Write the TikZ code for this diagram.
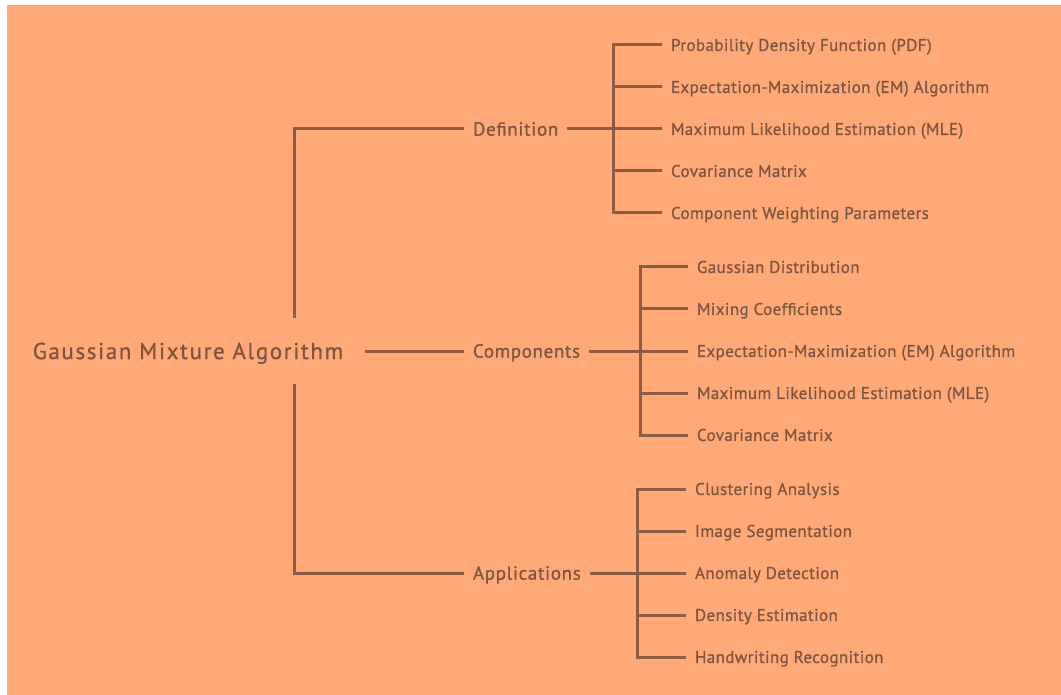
\documentclass[tikz,border=0pt]{standalone}
\usepackage{fontspec}
\setmainfont{PT Sans}
\newfontfamily\rootface{PT Sans}[FakeBold=0.8, LetterSpace=7]
\newfontfamily\branchface{PT Sans}[FakeBold=0.8, LetterSpace=3.5]
\newfontfamily\leafface{PT Sans}[FakeBold=0.8, LetterSpace=2.3]
\definecolor{canvas}{HTML}{FFA979}
\definecolor{bark}{HTML}{8A5D44}
\definecolor{ink}{HTML}{7D5440}
\tikzset{
  label base/.style={text=ink, inner ysep=0pt, outer sep=0pt},
  link/.style={draw=bark, line width=3pt},
  rootlabel/.style={label base, font=\rootface\fontsize{23}{27}\selectfont, text height=21.5pt, text depth=5.4pt, inner xsep=22pt, minimum height=66pt},
  branch/.style={label base, font=\branchface\fontsize{19}{23}\selectfont, text height=18pt, text depth=4.7pt, anchor=west, inner xsep=9pt},
  leaf/.style={label base, font=\leafface\fontsize{17}{20}\selectfont, text height=16pt, text depth=4.1pt, anchor=west, inner xsep=9pt},
}
\begin{document}
\begin{tikzpicture}[x=1pt, y=-1pt]
\useasboundingbox (0,0) rectangle (1061,695);
\fill[white] (0,0) rectangle (1061,695);
\fill[canvas] (7,5) rectangle (1061,695);

% root and first level
\node[rootlabel] (root) at (188,351) {Gaussian Mixture Algorithm};
\node[branch] (def)  at (464,129) {Definition};
\node[branch] (comp) at (464,351) {Components};
\node[branch] (app)  at (464,573) {Applications};

% second level: definition
\node[leaf] (d1) at (662,45)  {Probability Density Function (PDF)};
\node[leaf] (d2) at (662,87)  {Expectation-Maximization (EM) Algorithm};
\node[leaf] (d3) at (662,129) {Maximum Likelihood Estimation (MLE)};
\node[leaf] (d4) at (662,171) {Covariance Matrix};
\node[leaf] (d5) at (662,213) {Component Weighting Parameters};

% second level: components
\node[leaf] (c1) at (688,267) {Gaussian Distribution};
\node[leaf] (c2) at (688,309) {Mixing Coefficients};
\node[leaf] (c3) at (688,351) {Expectation-Maximization (EM) Algorithm};
\node[leaf] (c4) at (688,393) {Maximum Likelihood Estimation (MLE)};
\node[leaf] (c5) at (688,435) {Covariance Matrix};

% second level: applications
\node[leaf] (a1) at (686,489) {Clustering Analysis};
\node[leaf] (a2) at (686,531) {Image Segmentation};
\node[leaf] (a3) at (686,573) {Anomaly Detection};
\node[leaf] (a4) at (686,615) {Density Estimation};
\node[leaf] (a5) at (686,657) {Handwriting Recognition};

% bracket spines
\coordinate (rb) at (294,351);
\coordinate (db) at (613,129);
\coordinate (cb) at (640,351);
\coordinate (ab) at (637,573);

% root connectors
\draw[link] (def.west) -| (root.north -| rb);
\draw[link] (app.west) -| (root.south -| rb);
\draw[link] (root.east) -- (comp.west);

% definition connectors
\draw[link] (def.east) -- (d3.west);
\draw[link] (d1.west) -| (d5.west -| db) -- (d5.west);
\draw[link] (d2.west) -- (d2.west -| db);
\draw[link] (d4.west) -- (d4.west -| db);

% components connectors
\draw[link] (comp.east) -- (c3.west);
\draw[link] (c1.west) -| (c5.west -| cb) -- (c5.west);
\draw[link] (c2.west) -- (c2.west -| cb);
\draw[link] (c4.west) -- (c4.west -| cb);

% applications connectors
\draw[link] (app.east) -- (a3.west);
\draw[link] (a1.west) -| (a5.west -| ab) -- (a5.west);
\draw[link] (a2.west) -- (a2.west -| ab);
\draw[link] (a4.west) -- (a4.west -| ab);
\end{tikzpicture}
\end{document}
